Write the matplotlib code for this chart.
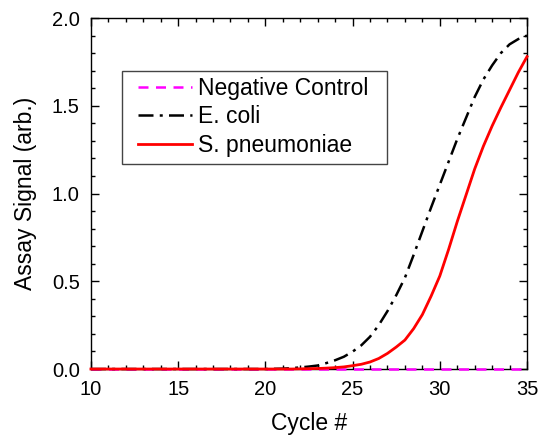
import numpy as np
import matplotlib
matplotlib.use('Agg')
import matplotlib.pyplot as plt
from matplotlib.ticker import MultipleLocator
from matplotlib.patches import Rectangle

plt.rcParams['font.family'] = ['Liberation Sans', 'DejaVu Sans']

# cycle number (half-cycle steps)
cycle = [10, 11, 12, 13, 14, 15, 16, 17, 18, 19, 20, 21, 21.5, 22, 22.5,
         23, 23.5, 24, 24.5, 25, 25.5, 26, 26.5, 27, 27.5, 28, 28.5, 29,
         29.5, 30, 30.5, 31, 31.5, 32, 32.5, 33, 33.5, 34, 34.5, 35]

neg_control = [0.0] * len(cycle)

e_coli = [0, 0, 0, 0, 0, 0, 0, 0, 0, 0, 0, 0.002, 0.005, 0.009, 0.014,
          0.020, 0.034, 0.050, 0.070, 0.099, 0.135, 0.184, 0.25, 0.33, 0.42,
          0.52, 0.65, 0.785, 0.92, 1.05, 1.18, 1.31, 1.43, 1.55, 1.65,
          1.73, 1.80, 1.85, 1.88, 1.90]

s_pneumoniae = [0, 0, 0, 0, 0, 0, 0, 0, 0, 0, 0, 0, 0, 0.001, 0.002,
                0.003, 0.005, 0.008, 0.012, 0.019, 0.027, 0.040, 0.060, 0.089,
                0.125, 0.165, 0.23, 0.31, 0.415, 0.53, 0.68, 0.84, 0.99, 1.14,
                1.27, 1.385, 1.49, 1.59, 1.69, 1.78]

fig = plt.figure(figsize=(5.38, 4.38), dpi=100)
ax = fig.add_axes([0.169, 0.1575, 0.8106, 0.8014])

# lines sit above the spines so the zero baseline stays visible
ax.plot(cycle, neg_control, color='magenta', ls=(0, (4, 3)), lw=1.8,
        label='Negative Control', zorder=2.6, clip_on=False)
ax.plot(cycle, e_coli, color='black', ls=(0, (6, 2.5, 1.2, 2.5)), lw=1.8,
        label='E. coli', zorder=2.7, clip_on=False)
ax.plot(cycle, s_pneumoniae, color='red', lw=2.0,
        label='S. pneumoniae', zorder=2.8, clip_on=False)

ax.set_xlim(10, 35)
ax.set_ylim(0, 2.0)
ax.xaxis.set_major_locator(MultipleLocator(5))
ax.xaxis.set_minor_locator(MultipleLocator(1))
ax.yaxis.set_major_locator(MultipleLocator(0.5))
ax.yaxis.set_minor_locator(MultipleLocator(0.1))
ax.yaxis.set_major_formatter(matplotlib.ticker.FormatStrFormatter('%.1f'))
ax.tick_params(which='both', direction='in', top=True, right=True,
               labelsize=14.5, width=1)
ax.tick_params(which='major', length=6)
ax.tick_params(which='minor', length=3)
ax.tick_params(axis='x', which='major', pad=8)
ax.tick_params(axis='y', which='major', pad=8)
for sp in ax.spines.values():
    sp.set_linewidth(1)

ax.set_xlabel('Cycle #', fontsize=16.5, labelpad=9)
ax.set_ylabel('Assay Signal (arb.)', fontsize=16.5, labelpad=11)

# legend without its own frame, box drawn separately (wider side padding)
leg = ax.legend(loc='upper left', bbox_to_anchor=(0.108, 0.833), fontsize=16.5,
                frameon=False, handlelength=2.35, handletextpad=0.25,
                borderpad=0, labelspacing=0.25, borderaxespad=0)
ax.add_patch(Rectangle((0.071, 0.584), 0.608, 0.265, transform=ax.transAxes,
                       facecolor='white', edgecolor='#444444', lw=1,
                       zorder=5))
leg.set_zorder(6)

plt.savefig('out.png', dpi=100)
